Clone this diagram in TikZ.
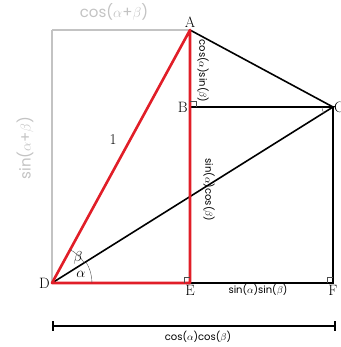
\documentclass[tikz,border=0pt]{standalone}
\usepackage{amsmath,amssymb}
\usepackage{fontspec}
\usepackage{tikz}
\newfontfamily\labelfont{Poppins}
\definecolor{trired}{RGB}{225, 30, 40}
\definecolor{boxgray}{RGB}{195, 195, 195}

\begin{document}
\begin{tikzpicture}[x=1pt,y=-1pt,
    redside/.style={trired, line width=2.6pt},
    blackside/.style={black, line width=1.6pt},
    graybox/.style={boxgray, line width=1.8pt},
    anglemark/.style={black!70, thin},
    vertex/.style={font=\fontsize{15}{17}\selectfont},
    sidelabel/.style={font=\labelfont\fontsize{10}{12}\selectfont, inner sep=1pt},
    graylabel/.style={font=\labelfont\fontsize{15}{17}\selectfont, text=boxgray}]
        \useasboundingbox (0,0) rectangle (340,347);
        \coordinate (d) at (52,283);
        \coordinate (e) at (190,283);
        \coordinate (f) at (333,283);
        \coordinate (a) at (190,30);
        \coordinate (b) at (190,107);
        \coordinate (c) at (333,107);

        \draw[graybox] (52,30) -- (a);
        \draw[graybox] (52,30) -- (d);

        \draw[blackside] (a) -- (c) -- (f) -- (e);
        \draw[blackside] (b) -- (c) -- (d);
        \draw[redside, line join=round] (d) -- (a) -- (e) -- cycle;

        % right angles (y axis points down)
        \draw[anglemark] (184,283) -- (184,277) -- (190,277);
        \draw[anglemark] (327,283) -- (327,277) -- (333,277);
        \draw[anglemark] (190,101) -- (196,101) -- (196,107);
        \draw[anglemark] ([shift={(0:40)}]d) arc[start angle=0, end angle=-32, radius=40];
        \draw[anglemark] ([shift={(-32:38)}]d) arc[start angle=-32, end angle=-61.4, radius=38];
        \draw[anglemark] ([shift={(-180:11)}]c) arc[start angle=-180, end angle=-212, radius=11];

        \node[vertex, above, inner sep=2pt] (la) at (a) {A};
        \node[vertex, left, inner sep=2pt] (lb) at (b) {B};
        \node[vertex, right, inner sep=1pt] (lc) at (c) {C};
        \node[vertex, left, inner sep=2pt] (ld) at (d) {D};
        \node[vertex, below, inner sep=2pt] (le) at (e) {E};
        \node[vertex, below, inner sep=2pt] (lf) at (f) {F};

        \node[graylabel] (cab) at (114,12) {cos($\alpha$+$\beta$)};
        \node[graylabel, rotate=90] (sab) at (25,148) {sin($\alpha$+$\beta$)};
        \node[vertex] (one) at (113,140) {1};
        \node[font=\Large] (alp) at (81,274) {$\alpha$};
        \node[font=\Large] (bet) at (78,258) {$\beta$};
        \node[sidelabel, rotate=-90] (casb) at (203,71) {cos($\alpha$)sin($\beta$)};
        \node[sidelabel, rotate=-90] (sacb) at (209,190) {sin($\alpha$)cos($\beta$)};
        \node[sidelabel] (sasb) at (258,290) {sin($\alpha$)sin($\beta$)};

        \coordinate (m1) at (52,326);
        \coordinate (m2) at (336,326);
        \draw[blackside, |-|] (m1) -- (m2);
        \node[sidelabel, below=4pt] (cacb) at (198,326) {cos($\alpha$)cos($\beta$)};
\end{tikzpicture}
\end{document}
